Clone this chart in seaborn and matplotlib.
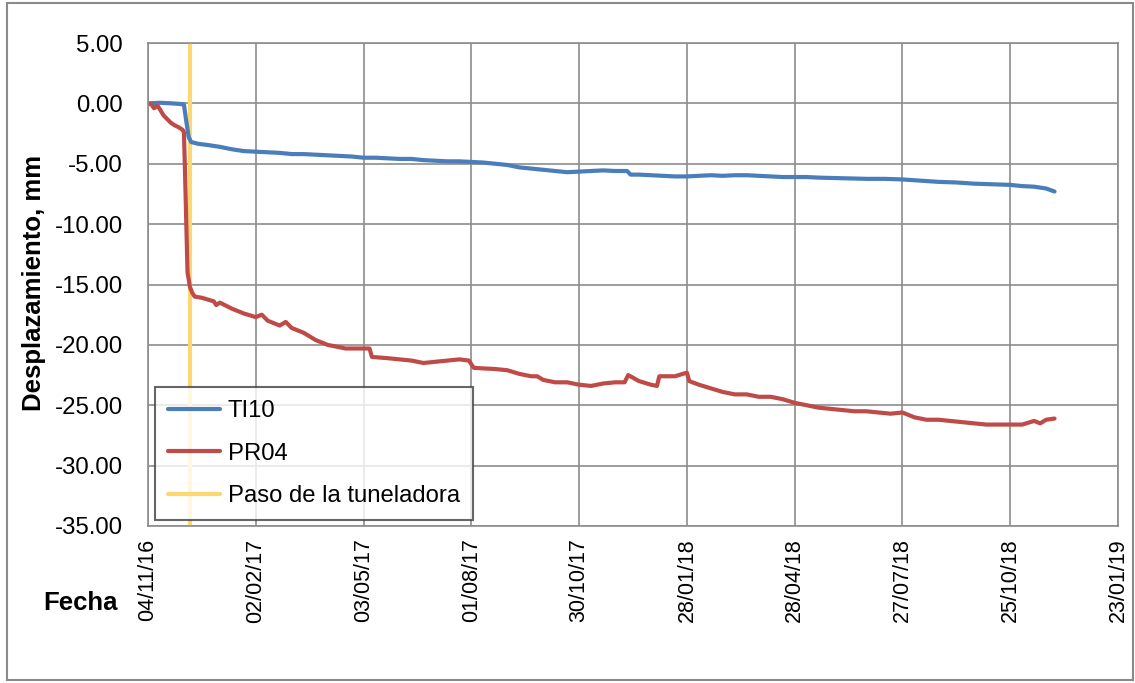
"""Desplazamientos TI10 / PR04 frente a la fecha, con el paso de la tuneladora."""

import numpy as np
import pandas as pd
import seaborn as sns, matplotlib.pyplot as plt
import matplotlib.dates as mdates
from matplotlib.patches import Rectangle

# fecha de origen de las lecturas
fecha_inicio = "2016-11-04"

# TI10: dias desde el inicio y desplazamiento (mm)
dias_ti10 = [0, 10, 20, 27, 30, 32, 34, 36, 42, 50, 60, 70, 80, 90, 100, 110, 120,
             130, 140, 150, 160, 170, 180, 190, 200, 210, 220, 230, 240, 250, 260,
             270, 280, 290, 300, 310, 320, 330, 340, 350, 360, 370, 380, 390, 400,
             403, 410, 420, 430, 440, 450, 460, 470, 480, 490, 500, 510, 520, 530,
             540, 550, 560, 580, 600, 615, 630, 645, 660, 675, 690, 705, 720, 730,
             740, 750, 757]
desp_ti10 = [0.0, 0.05, 0.0, -0.05, -0.1, -1.5, -2.8, -3.2, -3.35, -3.45, -3.6, -3.8,
             -3.95, -4.0, -4.05, -4.1, -4.2, -4.2, -4.25, -4.3, -4.35, -4.4, -4.5,
             -4.5, -4.55, -4.6, -4.6, -4.7, -4.75, -4.8, -4.8, -4.85, -4.9, -5.0,
             -5.1, -5.3, -5.4, -5.5, -5.6, -5.7, -5.65, -5.6, -5.55, -5.6, -5.6,
             -5.9, -5.9, -5.95, -6.0, -6.05, -6.05, -6.0, -5.95, -6.0, -5.95, -5.95,
             -6.0, -6.05, -6.1, -6.1, -6.1, -6.15, -6.2, -6.25, -6.25, -6.3, -6.4,
             -6.5, -6.55, -6.65, -6.7, -6.75, -6.85, -6.9, -7.05, -7.3]

# PR04: dias desde el inicio y desplazamiento (mm)
dias_pr04 = [0, 3, 5, 8, 10, 13, 16, 19, 22, 26, 29, 30, 31, 32, 33, 35, 37, 39, 45,
             55, 57, 60, 70, 80, 90, 95, 100, 110, 115, 120, 130, 140, 150, 165, 180,
             185, 187, 200, 210, 220, 230, 240, 250, 260, 268, 272, 280, 290, 300,
             310, 320, 325, 330, 340, 350, 360, 370, 380, 390, 398, 401, 410, 420,
             425, 427, 440, 450, 452, 460, 470, 480, 490, 500, 510, 520, 530, 540,
             550, 560, 570, 580, 590, 600, 610, 620, 630, 640, 650, 660, 670, 680,
             690, 700, 710, 720, 730, 740, 745, 750, 757]
desp_pr04 = [0.0, -0.1, -0.4, -0.2, -0.5, -1.0, -1.3, -1.6, -1.8, -2.0, -2.2, -2.4,
             -6.0, -10.0, -14.0, -15.2, -15.7, -16.0, -16.1, -16.4, -16.7, -16.5,
             -17.0, -17.4, -17.7, -17.5, -18.0, -18.4, -18.1, -18.6, -19.0, -19.6,
             -20.0, -20.3, -20.3, -20.3, -21.0, -21.1, -21.2, -21.3, -21.5, -21.4,
             -21.3, -21.2, -21.3, -21.9, -21.95, -22.0, -22.1, -22.4, -22.6, -22.6,
             -22.9, -23.1, -23.1, -23.3, -23.4, -23.2, -23.1, -23.1, -22.5, -23.0,
             -23.3, -23.4, -22.6, -22.6, -22.3, -23.0, -23.3, -23.6, -23.9, -24.1,
             -24.1, -24.3, -24.3, -24.5, -24.8, -25.0, -25.2, -25.3, -25.4, -25.5,
             -25.5, -25.6, -25.7, -25.6, -26.0, -26.2, -26.2, -26.3, -26.4, -26.5,
             -26.6, -26.6, -26.6, -26.6, -26.3, -26.5, -26.2, -26.1]

# paso de la tuneladora
dia_tuneladora = 35

# eje x: ticks cada 90 dias
fecha_fin = "2019-01-23"
y_ticks = [5, 0, -5, -10, -15, -20, -25, -30, -35]


inicio = pd.Timestamp(fecha_inicio)
df_ti10 = pd.DataFrame({"fecha": inicio + pd.to_timedelta(dias_ti10, unit="D"),
                        "desp": desp_ti10})
df_pr04 = pd.DataFrame({"fecha": inicio + pd.to_timedelta(dias_pr04, unit="D"),
                        "desp": desp_pr04})
fecha_tbm = inicio + pd.Timedelta(days=dia_tuneladora)

sns.set_theme(style="white")
plt.rcParams["font.family"] = ["Liberation Sans", "DejaVu Sans"]
plt.rcParams["text.color"] = "black"

gris = "#8c8c8c"
fig = plt.figure(figsize=(11.35, 6.83), dpi=100)
fig.patches.append(Rectangle((7 / 1135, 3 / 683), 1126 / 1135, 677 / 683,
                             transform=fig.transFigure, fill=False,
                             edgecolor="#8a8a8a", linewidth=1.5))
ax = fig.add_axes([148 / 1135, 1 - 526 / 683, 970 / 1135, 483 / 683])

sns.lineplot(data=df_ti10, x="fecha", y="desp", ax=ax, color="#4a7ebb",
             linewidth=3, label="TI10")
sns.lineplot(data=df_pr04, x="fecha", y="desp", ax=ax, color="#be4b48",
             linewidth=3, label="PR04")
ax.axvline(fecha_tbm, color="#fdd870", linewidth=3, label="Paso de la tuneladora",
           zorder=1)

ax.set_xlim(inicio, pd.Timestamp(fecha_fin))
ax.set_ylim(-35, 5)
ax.set_xticks(pd.date_range(inicio, periods=10, freq="90D"))
ax.xaxis.set_major_formatter(mdates.DateFormatter("%d/%m/%y"))
ax.set_yticks(y_ticks)
ax.yaxis.set_major_formatter(plt.FuncFormatter(lambda v, p: f"{v:.2f}"))

ax.grid(True, color=gris, linewidth=1.2)
ax.set_axisbelow(True)
for s in ax.spines.values():
    s.set_color(gris)
    s.set_linewidth(1.2)
ax.tick_params(axis="both", direction="out", length=6, width=1.2, color=gris,
               labelcolor="black")
ax.tick_params(axis="y", pad=12, labelsize=17.3)
ax.tick_params(axis="x", pad=3, labelrotation=90, labelsize=15.5)

ax.set_xlabel("")
ax.set_ylabel("")
fig.text(34 / 1135, 1 - 283 / 683, "Desplazamiento, mm", rotation=90,
         ha="center", va="center", fontsize=18.5, fontweight="bold")
fig.text(80 / 1135, 1 - 603 / 683, "Fecha", ha="center", va="center",
         fontsize=18.5, fontweight="bold")

leg = ax.legend(loc="lower left", bbox_to_anchor=(0.007, 0.012), borderaxespad=0,
                fontsize=17.2, frameon=True, fancybox=False, handlelength=2.2,
                labelspacing=0.85, borderpad=0.55, handletextpad=0.3)
leg.get_frame().set_edgecolor("#404040")
leg.get_frame().set_linewidth(1.5)
for t in leg.get_texts():
    t.set_color("black")

fig.savefig("out.png", dpi=100)
